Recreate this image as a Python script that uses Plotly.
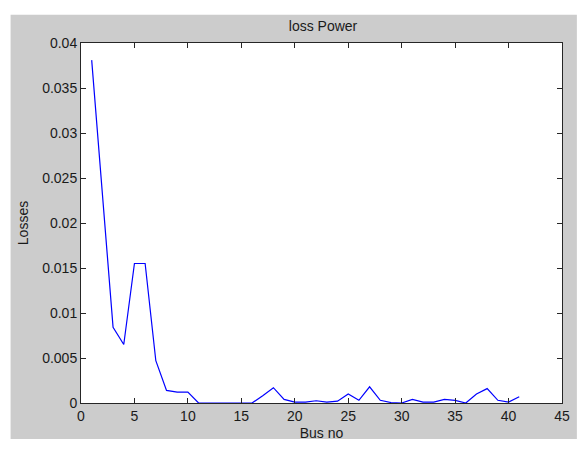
import plotly.graph_objects as go

bus_no = list(range(1, 42))
losses = [0.0381, 0.0236, 0.0084, 0.0065, 0.0155, 0.0155, 0.0047, 0.0014, 0.0012, 0.0012,
          0.0, 0.0, 0.0, 0.0, 0.0, 0.0, 0.0008, 0.0017, 0.0004, 0.0001,
          0.0001, 0.00025, 0.0001, 0.0002, 0.001, 0.0003, 0.0018, 0.0003, 0.00005, 0.0,
          0.0004, 0.0001, 0.0001, 0.0004, 0.0003, 0.0, 0.001, 0.0016, 0.0003, 0.0001,
          0.0007]
x_ticks = [0, 5, 10, 15, 20, 25, 30, 35, 40, 45]
y_ticks = [0, 0.005, 0.01, 0.015, 0.02, 0.025, 0.03, 0.035, 0.04]
y_tick_text = ["0", "0.005", "0.01", "0.015", "0.02", "0.025", "0.03", "0.035", "0.04"]

W, H = 582, 451
L, R, T, B = 81, 16, 43, 38
pw, ph = W - L - R, H - T - B

fig = go.Figure()
fig.add_trace(go.Scatter(x=bus_no, y=losses, mode="lines",
                         line=dict(color="#0000ff", width=1.2), showlegend=False))

font = dict(family="Liberation Sans, Arial, sans-serif", size=14, color="#1a1a1a")
axis_common = dict(showgrid=False, zeroline=False, showline=True, linecolor="#262626",
                   linewidth=1, mirror="allticks", ticks="inside", ticklen=5,
                   tickcolor="#262626", tickfont=font)

fig.update_layout(
    width=W, height=H,
    margin=dict(l=L, r=R, t=T, b=B),
    paper_bgcolor="white", plot_bgcolor="white",
    font=font,
    title=dict(text="loss Power", x=323 / W, xanchor="center",
               y=1 - 26 / H, yanchor="middle", font=font),
    xaxis=dict(range=[0, 45], tickvals=x_ticks, ticktext=[str(v) for v in x_ticks],
               title=dict(text="Bus no", font=font, standoff=5), **axis_common),
    yaxis=dict(range=[0, 0.04], tickvals=y_ticks, ticktext=y_tick_text,
               title=dict(text="Losses", font=font, standoff=10), **axis_common),
    shapes=[
        dict(type="rect", xref="paper", yref="paper", layer="below",
             x0=(10 - L) / pw, x1=(581 - L) / pw,
             y0=-(450 - (H - B)) / ph, y1=((H - B) - 14) / ph,
             fillcolor="#cccccc", line=dict(width=0)),
        dict(type="rect", xref="paper", yref="paper", layer="below",
             x0=0, x1=1, y0=0, y1=1, fillcolor="white", line=dict(width=0)),
    ],
)

fig.write_html("out.html")
